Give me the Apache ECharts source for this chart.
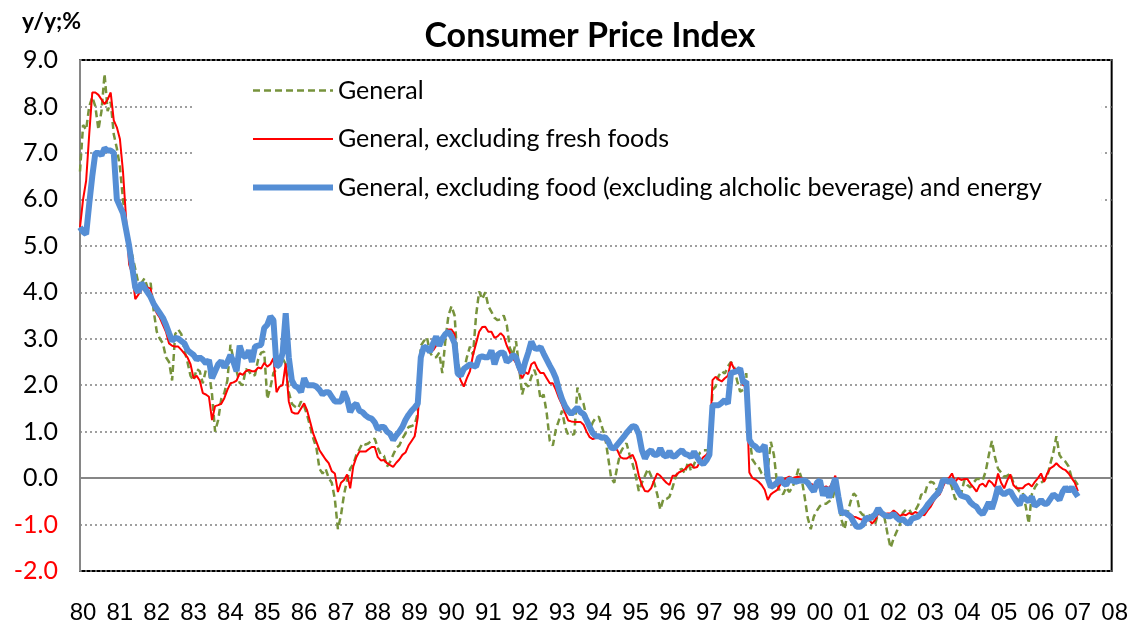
<!DOCTYPE html>
<html><head><meta charset="utf-8">
<script src="https://cdn.jsdelivr.net/npm/echarts@6/dist/echarts.min.js"></script>
<style>html,body{margin:0;padding:0;background:#fff}#c{width:1131px;height:631px}</style>
</head><body><div id="c"></div>
<script>
const titleText = 'Consumer Price Index';
const unitText = 'y/y;%';
const startYear = 1980;
const xMin = 1980, xMax = 2008;
const yMin = -2, yMax = 9;
const names = ['General', 'General, excluding fresh foods', 'General, excluding food (excluding alcholic beverage) and energy'];

// monthly y/y %, from Jan 1980
const general = [
 6.6,7.6,7.5,8.0,8.2,8.0,7.5,7.9,8.7,7.9,8.1,7.4,
 7.1,6.7,6.0,5.4,5.0,4.8,4.5,4.2,4.2,4.3,4.1,4.2,
 3.6,3.15,3.0,2.9,2.6,2.5,2.1,3.1,3.2,3.1,2.76,2.5,
 2.2,2.1,2.35,2.3,2.04,2.33,2.3,1.8,1.0,1.25,1.7,1.83,
 2.1,2.87,2.55,2.3,2.05,2.0,2.35,2.3,2.2,2.22,2.55,2.7,
 2.72,1.7,1.95,2.26,2.35,2.47,2.58,2.45,1.85,1.6,1.54,1.5,
 1.65,1.55,1.35,1.1,0.85,0.65,0.2,0.1,0.2,0.0,-0.1,-0.45,
 -1.1,-0.8,-0.35,-0.04,0.2,0.3,0.5,0.62,0.75,0.72,0.75,0.82,
 0.85,0.65,0.5,0.48,0.25,0.35,0.5,0.65,0.7,0.85,0.96,1.1,
 1.12,1.15,1.4,2.85,2.95,3.03,2.7,2.6,2.6,2.7,2.26,2.97,
 3.5,3.7,3.5,2.5,2.26,2.3,2.6,2.83,2.65,3.5,4.02,3.85,
 4.0,3.7,3.58,3.45,3.4,3.42,3.5,3.3,2.8,2.65,2.95,2.4,
 1.8,2.04,1.97,2.18,2.33,2.12,1.7,1.8,1.4,0.8,0.7,1.05,
 1.25,1.45,1.1,0.93,0.93,0.95,1.95,1.7,1.6,1.3,1.03,1.2,
 1.3,1.32,1.1,0.9,0.45,0.0,-0.1,0.25,0.55,0.67,0.75,0.5,
 0.3,0.05,-0.28,-0.1,0.05,0.2,0.05,-0.1,-0.35,-0.68,-0.45,-0.45,
 -0.4,-0.2,0.03,0.17,0.2,0.1,0.35,0.15,0.3,0.45,0.55,0.6,
 0.6,0.6,1.9,1.97,2.2,2.3,2.25,2.4,2.5,2.4,2.1,1.86,
 1.9,2.26,0.9,0.4,0.3,0.24,0.1,0.05,0.2,0.78,0.5,-0.1,
 -0.3,-0.35,-0.2,-0.3,-0.2,-0.04,0.2,0.0,-0.4,-0.85,-1.1,-0.83,
 -0.7,-0.6,-0.55,-0.55,-0.5,-0.47,-0.2,-0.5,-0.9,-1.1,-0.75,-0.5,
 -0.33,-0.4,-0.72,-0.8,-0.78,-0.8,-0.85,-0.98,-0.75,-0.7,-0.85,-1.2,
 -1.5,-1.3,-1.15,-1.0,-0.75,-0.68,-0.67,-0.78,-0.7,-0.58,-0.35,-0.37,
 -0.15,-0.08,-0.1,-0.25,-0.2,-0.1,-0.05,-0.04,-0.2,-0.45,-0.45,-0.33,
 -0.05,-0.15,-0.2,-0.1,-0.02,-0.02,-0.05,0.15,0.5,0.8,0.45,0.2,
 0.12,0.03,0.05,0.1,-0.1,-0.2,-0.29,-0.3,-0.6,-0.98,-0.35,-0.2,
 -0.1,-0.1,-0.05,0.03,0.3,0.55,0.9,0.5,0.4,0.35,0.25,0.0,
 -0.05,-0.15
];
const exFresh = [
 5.4,6.0,6.4,7.4,8.3,8.3,8.25,8.15,8.05,8.15,8.3,7.7,
 7.55,7.3,6.6,5.6,4.6,4.4,3.85,3.95,4.05,4.15,4.1,4.08,
 3.7,3.55,3.45,3.3,3.15,2.9,2.85,2.83,2.83,2.76,2.68,2.6,
 2.45,2.15,2.2,2.1,1.83,1.8,1.75,1.25,1.55,1.57,1.6,1.72,
 1.9,2.04,2.06,2.1,2.26,2.22,2.3,2.33,2.3,2.3,2.38,2.36,
 2.48,2.4,2.45,2.58,1.85,1.97,2.0,2.47,1.65,1.42,1.39,1.39,
 1.5,1.61,1.45,1.2,0.95,0.78,0.6,0.5,0.4,0.32,0.15,0.1,
 -0.3,-0.1,-0.04,0.08,-0.22,0.25,0.45,0.57,0.57,0.57,0.62,0.67,
 0.67,0.45,0.38,0.39,0.32,0.28,0.24,0.33,0.4,0.5,0.55,0.7,
 0.8,0.9,1.3,2.6,2.83,2.8,2.75,2.75,2.85,2.92,3.0,3.12,
 3.2,3.2,3.1,2.3,2.1,1.97,2.15,2.3,2.65,2.9,3.15,3.25,
 3.26,3.15,3.15,3.02,3.05,3.12,3.05,2.85,2.7,2.58,2.48,2.3,
 2.15,2.28,2.24,2.45,2.5,2.35,2.26,2.26,2.15,2.04,2.04,1.9,
 1.72,1.58,1.4,1.24,1.22,1.21,1.21,1.21,1.15,1.0,0.88,0.84,
 0.86,0.92,0.89,0.82,0.74,0.67,0.64,0.6,0.45,0.42,0.42,0.46,
 0.5,0.35,0.05,-0.15,-0.28,-0.29,-0.22,-0.05,0.1,0.05,-0.03,-0.1,
 -0.15,0.05,0.05,0.12,0.15,0.19,0.26,0.3,0.22,0.24,0.36,0.45,
 0.5,0.6,2.11,2.18,2.12,2.08,2.15,2.2,2.5,2.36,2.34,2.2,
 2.0,1.97,0.12,0.0,-0.03,-0.08,-0.15,-0.25,-0.47,-0.35,-0.3,-0.26,
 -0.15,-0.05,0.0,0.03,0.0,0.02,0.03,0.0,-0.03,-0.08,-0.12,-0.15,
 -0.19,-0.2,-0.2,-0.18,-0.22,-0.1,0.05,-0.3,-0.73,-0.75,-0.76,-0.8,
 -0.83,-0.85,-0.88,-0.9,-0.85,-0.9,-0.98,-0.9,-0.76,-0.8,-0.78,-0.76,
 -0.76,-0.7,-0.75,-0.82,-0.78,-0.8,-0.75,-0.78,-0.73,-0.76,-0.78,-0.8,
 -0.7,-0.62,-0.5,-0.4,-0.35,-0.2,-0.05,0.0,0.1,-0.08,0.0,-0.04,
 -0.02,-0.02,-0.12,-0.2,-0.29,-0.15,-0.12,-0.19,-0.05,-0.1,-0.19,0.1,
 -0.1,-0.22,-0.05,0.08,-0.15,-0.22,-0.22,-0.22,-0.15,-0.12,-0.18,-0.08,
 0.0,0.1,-0.08,0.1,0.21,0.25,0.32,0.25,0.2,0.17,0.1,0.0,
 -0.1,-0.28
];
const coreCore = [
 5.4,5.3,5.25,5.9,6.5,7.0,7.0,6.95,7.1,7.05,7.05,7.0,
 6.0,5.85,5.7,5.35,5.0,4.55,4.1,4.0,4.2,4.1,4.0,3.9,
 3.75,3.65,3.55,3.45,3.3,3.12,2.95,3.02,3.0,2.95,2.9,2.76,
 2.7,2.65,2.55,2.6,2.55,2.47,2.54,2.15,2.3,2.45,2.52,2.38,
 2.5,2.65,2.5,2.3,2.85,2.65,2.6,2.75,2.5,2.83,2.85,2.87,
 3.23,3.3,3.48,3.4,2.4,2.45,2.7,3.55,2.6,2.1,1.98,1.95,
 1.85,2.15,2.0,2.0,2.0,1.97,1.9,1.8,1.85,1.85,1.75,1.65,
 1.65,1.65,1.86,1.7,1.42,1.55,1.6,1.45,1.42,1.35,1.3,1.28,
 1.2,1.05,1.1,1.1,1.0,0.95,0.82,0.92,1.0,1.1,1.25,1.36,
 1.45,1.52,1.6,2.6,2.83,2.8,2.72,2.9,3.05,2.85,3.0,3.1,
 3.15,3.05,2.9,2.25,2.2,2.35,2.4,2.45,2.42,2.4,2.6,2.62,
 2.6,2.6,2.75,2.45,2.65,2.7,2.7,2.5,2.55,2.65,2.6,2.4,
 2.25,2.5,2.7,2.94,2.8,2.78,2.82,2.68,2.55,2.42,2.3,2.15,
 1.9,1.7,1.55,1.45,1.38,1.45,1.52,1.42,1.38,1.25,1.1,0.97,
 0.9,0.9,0.87,0.88,0.8,0.65,0.64,0.72,0.8,0.88,0.97,1.05,
 1.12,1.1,0.95,0.6,0.42,0.55,0.6,0.5,0.5,0.64,0.5,0.46,
 0.58,0.46,0.48,0.55,0.6,0.52,0.5,0.45,0.57,0.45,0.35,0.3,
 0.38,0.5,1.57,1.57,1.57,1.62,1.68,1.6,2.26,2.28,2.3,2.36,
 2.05,2.08,0.82,0.72,0.68,0.6,0.62,0.71,0.0,-0.19,-0.15,-0.1,
 0.0,-0.1,-0.15,-0.02,-0.05,-0.08,-0.06,-0.05,-0.05,-0.1,-0.2,-0.29,
 -0.1,-0.05,-0.38,-0.2,-0.42,-0.2,0.0,-0.4,-0.76,-0.73,-0.78,-0.83,
 -0.95,-1.05,-1.05,-1.0,-0.85,-0.88,-0.83,-0.78,-0.65,-0.75,-0.8,-0.82,
 -0.82,-0.77,-0.85,-0.91,-0.88,-0.95,-0.98,-0.87,-0.85,-0.83,-0.75,-0.68,
 -0.58,-0.5,-0.42,-0.35,-0.26,-0.05,-0.05,-0.08,-0.05,-0.15,-0.28,-0.38,
 -0.4,-0.42,-0.52,-0.58,-0.62,-0.72,-0.78,-0.66,-0.52,-0.66,-0.45,-0.19,
 -0.3,-0.35,-0.3,-0.28,-0.4,-0.5,-0.58,-0.38,-0.45,-0.5,-0.4,-0.6,
 -0.55,-0.47,-0.55,-0.55,-0.45,-0.35,-0.4,-0.47,-0.3,-0.2,-0.28,-0.2,
 -0.3,-0.4
];

function toPoints(arr) { return arr.map((v, i) => [startYear + i / 12, v]); }

const chart = echarts.init(document.getElementById('c'), null, {renderer: 'canvas'});
const fontMain = 'Lato, "Open Sans", sans-serif';

chart.setOption({
  animation: false,
  backgroundColor: '#ffffff',
  title: [
    {text: titleText, left: 585, top: 14, textAlign: 'center',
     textStyle: {fontFamily: fontMain, fontWeight: 'bold', fontSize: 34, color: '#000'}},
    {text: unitText, left: 17, top: 5,
     textStyle: {fontFamily: fontMain, fontWeight: 'bold', fontSize: 23, color: '#000'}}
  ],
  legend: {
    data: names,
    orient: 'vertical',
    left: 192, top: 62,
    padding: [16, 60, 15, 58],
    itemWidth: 80, itemHeight: 20, itemGap: 23.5,
    backgroundColor: '#ffffff',
    lineStyle: {width: 'inherit'},
    itemStyle: {opacity: 0, borderWidth: 0},
    textStyle: {fontFamily: fontMain, fontSize: 25, color: '#000'},
    selectedMode: false
  },
  grid: {left: 80, right: 15, top: 60, bottom: 60, show: true, borderColor: '#000', borderWidth: 2, backgroundColor: 'transparent'},
  xAxis: [
    {type: 'value', min: xMin, max: xMax, interval: 1,
     axisLine: {show: false, onZero: false}, axisTick: {show: false}, splitLine: {show: false},
     axisLabel: {margin: 30, padding: [0, 0, 0, 6], fontFamily: '"Liberation Sans Narrow", sans-serif', fontSize: 24, color: '#000',
       formatter: v => String(Math.round(v) % 100).padStart(2, '0')}},
    {type: 'value', min: xMin, max: xMax, interval: 1,
     axisLine: {show: true, onZero: true, lineStyle: {color: '#868686', width: 2}},
     axisTick: {show: false}, axisLabel: {show: false}, splitLine: {show: false}}
  ],
  yAxis: {
    type: 'value', min: yMin, max: yMax, interval: 1,
    axisLine: {show: true, onZero: false, lineStyle: {color: '#868686', width: 2}},
    axisTick: {show: false},
    axisLabel: {margin: 22, fontFamily: fontMain, fontSize: 25,
      formatter: v => v.toFixed(1),
      color: v => (Number(v) < 0 ? '#ff0000' : '#000000')},
    splitLine: {show: true, lineStyle: {type: [2, 3], color: '#808080', width: 1.5}}
  },
  series: [
    {name: names[0], type: 'line', data: toPoints(general), symbol: 'none', showSymbol: false,
     lineStyle: {color: '#77933C', width: 2.5, type: [7, 4]}, itemStyle: {color: '#77933C'}, z: 2},
    {name: names[1], type: 'line', data: toPoints(exFresh), symbol: 'none', showSymbol: false,
     lineStyle: {color: '#FF0000', width: 2}, itemStyle: {color: '#FF0000'}, z: 3},
    {name: names[2], type: 'line', data: toPoints(coreCore), symbol: 'none', showSymbol: false,
     lineStyle: {color: '#558ED5', width: 6}, itemStyle: {color: '#558ED5'}, z: 4}
  ]
});
</script>
</body></html>
